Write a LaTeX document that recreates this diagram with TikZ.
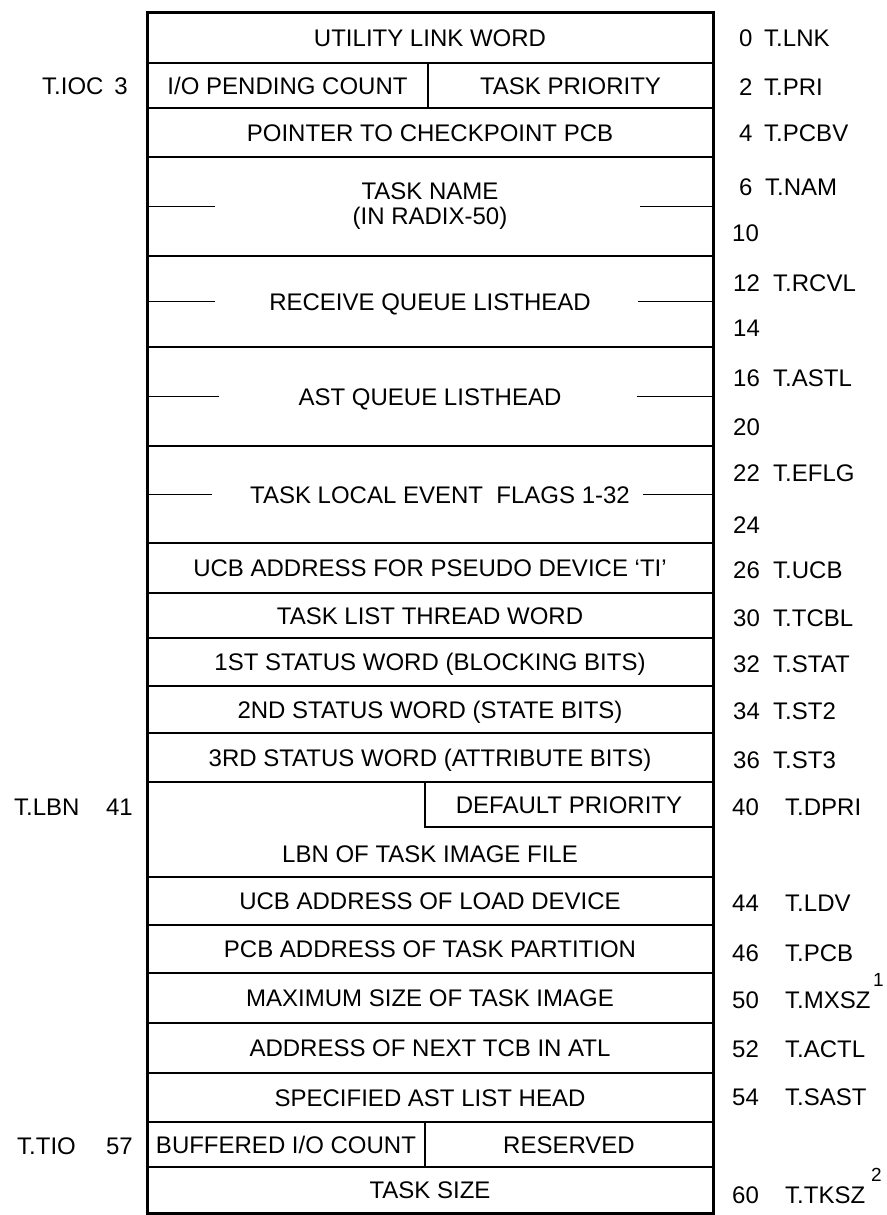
\documentclass[tikz,border=0pt]{standalone}
\usepackage{fontspec}
\setmainfont{Liberation Sans}
\usetikzlibrary{positioning}

\begin{document}
\begin{tikzpicture}[
    x=1pt, y=-1pt,
    word/.style={rectangle, draw=black, line width=1.8pt, minimum width=566pt, minimum height=#1, inner sep=0pt, outer sep=0pt, align=center, text height=17pt, text depth=0pt, font={\fontsize{24}{25}\selectfont}},
    cell/.style={rectangle, draw=black, line width=1.8pt, minimum height=45pt, inner sep=0pt, outer sep=0pt, text height=17pt, text depth=0pt, font={\fontsize{24}{25}\selectfont}},
    txt/.style={inner sep=0pt, text height=17pt, text depth=0pt, font={\fontsize{24}{25}\selectfont}},
    lbl/.style={anchor=west, inner sep=0pt, text height=17pt, text depth=0pt, font={\fontsize{24}{25}\selectfont}},
    sup/.style={anchor=west, inner sep=0pt, font={\fontsize{19}{20}\selectfont}},
    tick/.style={line width=1.8pt},
    frame/.style={line width=3pt}
  ]
  \useasboundingbox (0,0) rectangle (886,1215);

  \node[word=50pt] (lnk) at (430,38) {UTILITY LINK WORD};
  \node[word=45pt, below=0pt of lnk] (iocrow) {};
  \node[word=49pt, below=0pt of iocrow] (pcbv) {POINTER TO CHECKPOINT PCB};
  \node[word=99pt, below=0pt of pcbv, text height=, text depth=] (nam) {TASK NAME\\(IN RADIX-50)};
  \node[word=91pt, below=0pt of nam] (rcvl) {RECEIVE QUEUE LISTHEAD};
  \node[word=99pt, below=0pt of rcvl] (astl) {AST QUEUE LISTHEAD};
  \node[word=97pt, below=0pt of astl] (eflg) {};
  \node[word=50pt, below=0pt of eflg] (ucb) {UCB ADDRESS FOR PSEUDO DEVICE `TI'};
  \node[word=45pt, below=0pt of ucb] (tcbl) {TASK LIST THREAD WORD};
  \node[word=48pt, below=0pt of tcbl] (stat) {1ST STATUS WORD (BLOCKING BITS)};
  \node[word=47pt, below=0pt of stat] (st2) {2ND STATUS WORD (STATE BITS)};
  \node[word=49pt, below=0pt of st2] (st3) {3RD STATUS WORD (ATTRIBUTE BITS)};
  \node[word=95pt, below=0pt of st3] (lbnrow) {};
  \node[word=48pt, below=0pt of lbnrow] (ldv) {UCB ADDRESS OF LOAD DEVICE};
  \node[word=48pt, below=0pt of ldv] (pcb) {PCB ADDRESS OF TASK PARTITION};
  \node[word=50pt, below=0pt of pcb] (mxsz) {MAXIMUM SIZE OF TASK IMAGE};
  \node[word=50pt, below=0pt of mxsz] (actl) {ADDRESS OF NEXT TCB IN ATL};
  \node[word=49pt, below=0pt of actl] (sast) {SPECIFIED AST LIST HEAD};
  \node[word=45pt, below=0pt of sast] (tiorow) {};
  \node[word=46pt, below=0pt of tiorow] (tksz) {TASK SIZE};

  \node[cell, minimum width=281pt, anchor=north west] (ioc) at (iocrow.north west) {I/O PENDING COUNT};
  \node[cell, minimum width=285pt, anchor=north east] (pri) at (iocrow.north east) {TASK PRIORITY};
  \node[txt] (eflgtxt) at ([xshift=10pt]eflg.center) {TASK LOCAL EVENT\ \ FLAGS 1-32};
  \node[cell, minimum width=288pt, anchor=north east] (dpri) at (lbnrow.north east) {DEFAULT PRIORITY};
  \node[txt] (lbn) at ([yshift=-24pt]lbnrow.center) {LBN OF TASK IMAGE FILE};
  \node[cell, minimum width=278pt, anchor=north west] (tio) at (tiorow.north west) {BUFFERED I/O COUNT};
  \node[cell, minimum width=288pt, anchor=north east] (rsv) at (tiorow.north east) {RESERVED};

  \draw[tick] (nam.west) -- ([xshift=68pt]nam.west);
  \draw[tick] (nam.east) -- ([xshift=-73pt]nam.east);
  \draw[tick] (rcvl.west) -- ([xshift=68pt]rcvl.west);
  \draw[tick] (rcvl.east) -- ([xshift=-75pt]rcvl.east);
  \draw[tick] (astl.west) -- ([xshift=72pt]astl.west);
  \draw[tick] (astl.east) -- ([xshift=-76pt]astl.east);
  \draw[tick] (eflg.west) -- ([xshift=65pt]eflg.west);
  \draw[tick] (eflg.east) -- ([xshift=-70pt]eflg.east);

  \draw[frame] (lnk.north west) rectangle (tksz.south east);

  \node[lbl] (o0) at (739,38) {0};
  \node[lbl] (tlnk) at (764,38) {T.LNK};
  \node[lbl] (o2) at (739,87) {2};
  \node[lbl] (tpri) at (764,87) {T.PRI};
  \node[lbl] (o4) at (739,133) {4};
  \node[lbl] (tpcbv) at (764,133) {T.PCBV};
  \node[lbl] (o6) at (739,187) {6};
  \node[lbl] (tnam) at (765,187) {T.NAM};
  \node[lbl] (o10) at (732,233) {10};
  \node[lbl] (o12) at (733,283) {12};
  \node[lbl] (trcvl) at (773,283) {T.RCVL};
  \node[lbl] (o14) at (733,328) {14};
  \node[lbl] (o16) at (733,378) {16};
  \node[lbl] (tastl) at (773,378) {T.ASTL};
  \node[lbl] (o20) at (733,427) {20};
  \node[lbl] (o22) at (733,473) {22};
  \node[lbl] (teflg) at (773,473) {T.EFLG};
  \node[lbl] (o24) at (733,525) {24};
  \node[lbl] (o26) at (733,570) {26};
  \node[lbl] (tucb) at (773,570) {T.UCB};
  \node[lbl] (o30) at (733,618) {30};
  \node[lbl] (ttcbl) at (773,618) {T.TCBL};
  \node[lbl] (o32) at (733,664) {32};
  \node[lbl] (tstat) at (773,664) {T.STAT};
  \node[lbl] (o34) at (733,711) {34};
  \node[lbl] (tst2) at (773,711) {T.ST2};
  \node[lbl] (o36) at (733,760) {36};
  \node[lbl] (tst3) at (773,760) {T.ST3};
  \node[lbl] (o40) at (732,807) {40};
  \node[lbl] (tdpri) at (785,807) {T.DPRI};
  \node[lbl] (o44) at (732,903) {44};
  \node[lbl] (tldv) at (785,903) {T.LDV};
  \node[lbl] (o46) at (732,953) {46};
  \node[lbl] (tpcb) at (785,953) {T.PCB};
  \node[lbl] (o50) at (732,1000) {50};
  \node[lbl] (tmxsz) at (785,1000) {T.MXSZ};
  \node[sup] (s1) at (873,980) {1};
  \node[lbl] (o52) at (732,1049) {52};
  \node[lbl] (tactl) at (785,1049) {T.ACTL};
  \node[lbl] (o54) at (732,1097) {54};
  \node[lbl] (tsast) at (785,1097) {T.SAST};
  \node[lbl] (o60) at (732,1195) {60};
  \node[lbl] (ttksz) at (785,1195) {T.TKSZ};
  \node[sup] (s2) at (871,1175) {2};

  \node[lbl] (tioc) at (42,86) {T.IOC};
  \node[lbl, anchor=east] (o3) at (128,86) {3};
  \node[lbl] (tlbn) at (14,807) {T.LBN};
  \node[lbl, anchor=east] (o41) at (133,807) {41};
  \node[lbl] (ttio) at (17,1146) {T.TIO};
  \node[lbl, anchor=east] (o57) at (133,1146) {57};
\end{tikzpicture}
\end{document}
